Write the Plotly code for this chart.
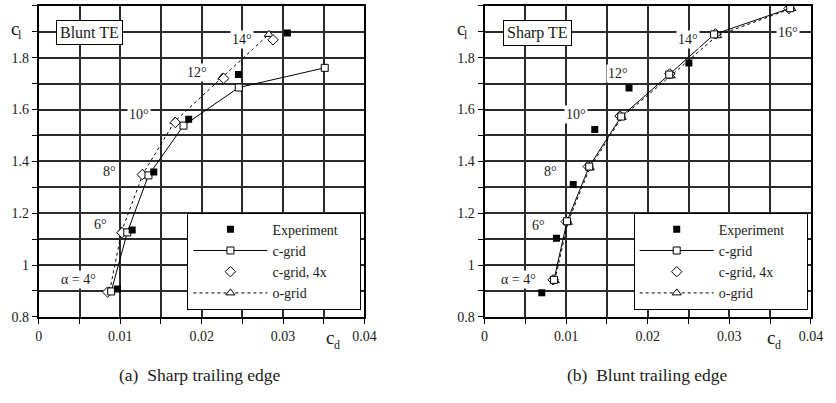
import plotly.graph_objects as go

# ---- Blunt trailing edge panel (left) ----
blunt_exp_cd = [0.00966, 0.01147, 0.01412, 0.01841, 0.02452, 0.03054]
blunt_exp_cl = [0.908, 1.135, 1.359, 1.563, 1.735, 1.895]
blunt_c_cd = [0.00889, 0.01087, 0.01347, 0.01777, 0.02456, 0.03512]
blunt_c_cl = [0.898, 1.126, 1.346, 1.538, 1.685, 1.761]
blunt_c4_cd = [0.00845, 0.01022, 0.01271, 0.01677, 0.02271, 0.02877]
blunt_c4_cl = [0.896, 1.125, 1.349, 1.550, 1.720, 1.869]
blunt_o_cd = [0.00870, 0.01018, 0.01280, 0.01669, 0.02255, 0.02825]
blunt_o_cl = [0.900, 1.131, 1.352, 1.554, 1.725, 1.890]

# ---- Sharp trailing edge panel (right) ----
sharp_exp_cd = [0.00701, 0.00881, 0.01086, 0.01350, 0.01770, 0.02504]
sharp_exp_cl = [0.893, 1.103, 1.311, 1.523, 1.683, 1.780]
sharp_c_cd = [0.00850, 0.01010, 0.01282, 0.01674, 0.02263, 0.02813, 0.03746]
sharp_c_cl = [0.943, 1.169, 1.380, 1.573, 1.735, 1.890, 1.991]
sharp_c4_cd = [0.00840, 0.01000, 0.01270, 0.01660, 0.02270, 0.02830, 0.03730]
sharp_c4_cl = [0.943, 1.168, 1.380, 1.575, 1.738, 1.892, 1.990]
sharp_o_cd = [0.00860, 0.01020, 0.01290, 0.01680, 0.02280, 0.02850, 0.03760]
sharp_o_cl = [0.940, 1.165, 1.375, 1.570, 1.730, 1.885, 1.990]

x_ticks = [0, 0.01, 0.02, 0.03, 0.04]
x_tick_text = ["0", "0.01", "0.02", "0.03", "0.04"]
y_ticks = [0.8, 1.0, 1.2, 1.4, 1.6, 1.8, 2.0]
y_tick_text = ["0.8", "1", "1.2", "1.4", "1.6", "1.8", "2"]

series_names = ["Experiment", "c-grid", "c-grid, 4x", "o-grid"]

FONT = "Liberation Serif, Times New Roman, serif"
INK = "#1a1a1a"
W, H = 836, 403

fig = go.Figure()


def add_panel(xa, ya, leg, exp, cg, c4, og):
    fig.add_trace(go.Scatter(
        x=og[0], y=og[1], name=series_names[3], xaxis=xa, yaxis=ya, legend=leg,
        mode="lines+markers", legendrank=4,
        line=dict(color="black", width=1, dash="3px,3px"),
        marker=dict(symbol="triangle-up", size=8, color="white",
                    line=dict(color="black", width=1))))
    fig.add_trace(go.Scatter(
        x=c4[0], y=c4[1], name=series_names[2], xaxis=xa, yaxis=ya, legend=leg,
        mode="markers", legendrank=3,
        marker=dict(symbol="diamond", size=8, color="white",
                    line=dict(color="black", width=1))))
    fig.add_trace(go.Scatter(
        x=cg[0], y=cg[1], name=series_names[1], xaxis=xa, yaxis=ya, legend=leg,
        mode="lines+markers", legendrank=2,
        line=dict(color="black", width=1),
        marker=dict(symbol="square", size=7, color="white",
                    line=dict(color="black", width=1))))
    # trailing no-break spaces widen the legend box a little
    fig.add_trace(go.Scatter(
        x=exp[0], y=exp[1], name=series_names[0] + "\u00a0" * 5,
        xaxis=xa, yaxis=ya, legend=leg,
        mode="markers", legendrank=1,
        marker=dict(symbol="square", size=7, color="black")))


add_panel("x", "y", "legend",
          (blunt_exp_cd, blunt_exp_cl), (blunt_c_cd, blunt_c_cl),
          (blunt_c4_cd, blunt_c4_cl), (blunt_o_cd, blunt_o_cl))
add_panel("x2", "y2", "legend2",
          (sharp_exp_cd, sharp_exp_cl), (sharp_c_cd, sharp_c_cl),
          (sharp_c4_cd, sharp_c4_cl), (sharp_o_cd, sharp_o_cl))

grid_col = "#2b2b2b"
grid_w = 1.5
axis_common = dict(
    showline=True, linecolor="black", linewidth=2, mirror=True,
    ticks="outside", ticklen=5, tickcolor="black", tickwidth=1,
    showgrid=True, gridcolor=grid_col, gridwidth=grid_w, zeroline=False,
    tickfont=dict(family=FONT, size=14, color=INK),
)
xcommon = dict(axis_common, range=[0, 0.04], tickvals=x_ticks, ticktext=x_tick_text,
               minor=dict(dtick=0.005, tick0=0, showgrid=True, gridcolor=grid_col,
                          gridwidth=grid_w, ticks="outside", ticklen=5,
                          tickcolor="black"))
ycommon = dict(axis_common, range=[0.8, 2.0], tickvals=y_ticks, ticktext=y_tick_text,
               minor=dict(dtick=0.1, tick0=0.8, showgrid=True, gridcolor=grid_col,
                          gridwidth=grid_w, ticks="outside", ticklen=5,
                          tickcolor="black"))

y_dom = [1 - 323.3 / H, 1 - 6 / H]
fig.update_layout(
    width=W, height=H,
    margin=dict(l=0, r=0, t=0, b=0),
    paper_bgcolor="white", plot_bgcolor="white",
    showlegend=True,
    xaxis=dict(xcommon, domain=[35.5 / W, 367.5 / W], anchor="y"),
    yaxis=dict(ycommon, domain=y_dom, anchor="x"),
    xaxis2=dict(xcommon, domain=[490 / W, 822.7 / W], anchor="y2"),
    yaxis2=dict(ycommon, domain=y_dom, anchor="x2"),
)

legend_common = dict(
    bgcolor="white", bordercolor="black", borderwidth=1,
    font=dict(family=FONT, size=14, color=INK),
    itemwidth=74, tracegroupgap=0, traceorder="normal",
    xanchor="left", yanchor="top", itemclick=False,
)
fig.update_layout(
    legend=dict(legend_common, x=187 / W, y=1 - 217 / H),
    legend2=dict(legend_common, x=642 / W, y=1 - 217 / H),
)

ann = []


def label(text, x, y, xref, yref, size=14, border=None):
    d = dict(text=text, x=x, y=y, xref=xref, yref=yref, showarrow=False,
             font=dict(family=FONT, size=size, color=INK), bgcolor="white",
             borderpad=1)
    if border:
        d.update(bordercolor=border, borderwidth=1, borderpad=3)
    ann.append(d)


def paper_text(text, px, py, size):
    ann.append(dict(text=text, x=px / W, y=1 - py / H, xref="paper", yref="paper",
                    showarrow=False, xanchor="center", yanchor="middle",
                    font=dict(family=FONT, size=size, color=INK)))


# angle-of-attack labels, left panel
label("α = 4°", 0.00482, 0.946, "x", "y")
label("6°", 0.0076, 1.156, "x", "y")
label("8°", 0.00873, 1.361, "x", "y")
label("10°", 0.01229, 1.582, "x", "y")
label("12°", 0.01946, 1.743, "x", "y")
label("14°", 0.02494, 1.869, "x", "y")
label("Blunt TE", 0.00627, 1.896, "x", "y", size=16, border="black")

# angle-of-attack labels, right panel
label("α = 4°", 0.00421, 0.946, "x2", "y2")
label("6°", 0.00661, 1.153, "x2", "y2")
label("8°", 0.0081, 1.361, "x2", "y2")
label("10°", 0.01126, 1.582, "x2", "y2")
label("12°", 0.01635, 1.739, "x2", "y2")
label("14°", 0.02488, 1.869, "x2", "y2")
label("16°", 0.03722, 1.897, "x2", "y2")
label("Sharp TE", 0.00645, 1.897, "x2", "y2", size=16, border="black")

# axis titles: c_l and c_d, main letter and subscript set separately
for cx in (11.7, 466.3):
    paper_text("c", cx, 29, 19)
    paper_text("l", cx + 4.5, 35.5, 12)
for cx in (332.5, 781.5):
    paper_text("c", cx, 344.5, 19)
    paper_text("d", cx + 7.5, 352, 12)

# captions
paper_text("(a)\u00a0 Sharp trailing edge", 200, 383, 17.5)
paper_text("(b)\u00a0 Blunt trailing edge", 656, 383, 17.5)

fig.update_layout(annotations=ann)
fig.write_html("out.html")
